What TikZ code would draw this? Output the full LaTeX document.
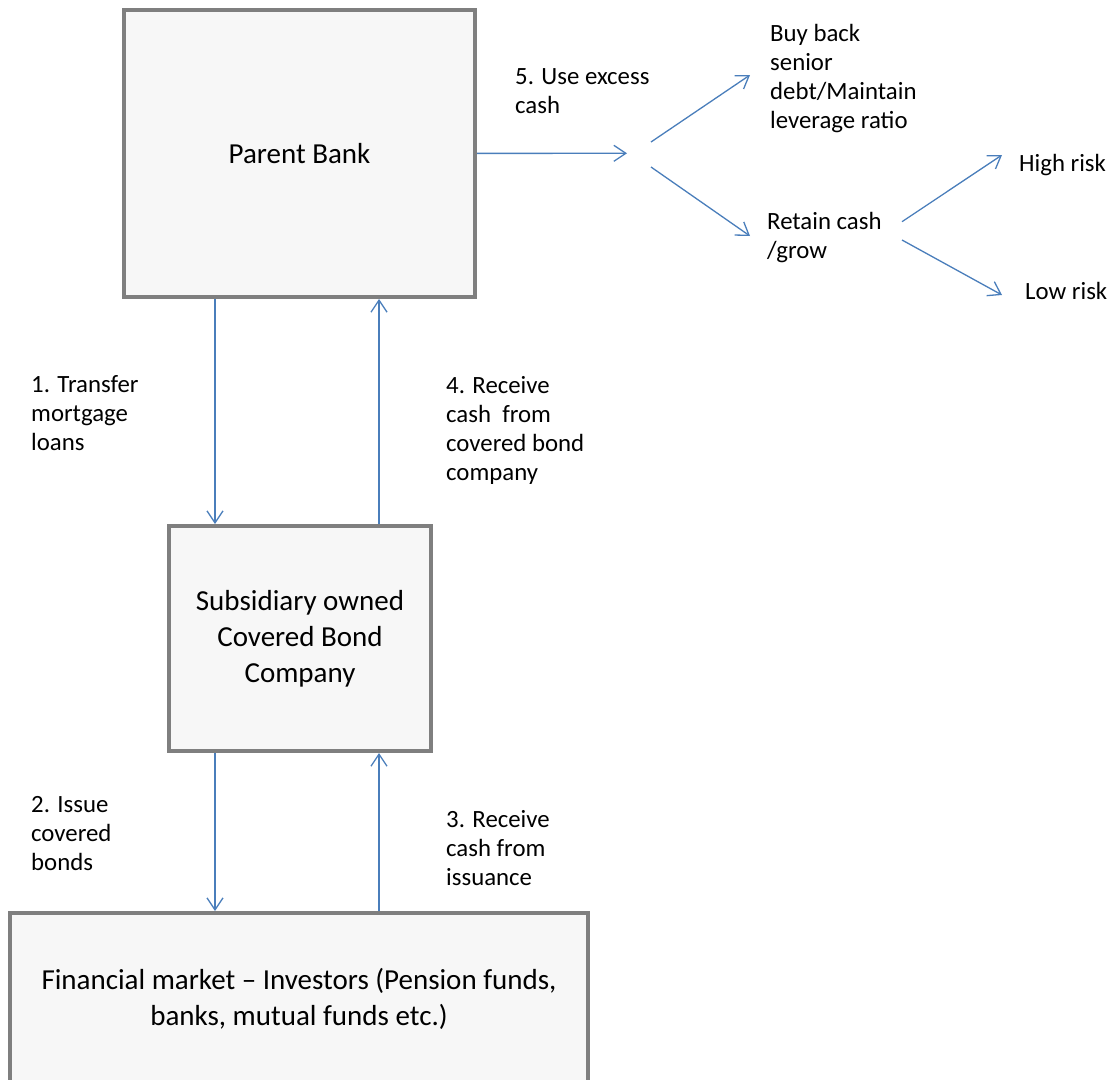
\documentclass[tikz,border=0pt]{standalone}
\usepackage{fontspec}
\setmainfont{Carlito}
\usepackage{tikz}
\usetikzlibrary{arrows.meta, positioning}
\usepackage{xcolor}
\definecolor{boxgray}{HTML}{7F7F7F}
\definecolor{boxfill}{HTML}{F7F7F7}
\definecolor{flowblue}{HTML}{4A7EBB}

\begin{document}
\begin{tikzpicture}[x=1pt, y=-1pt,
  box/.style={draw=boxgray, fill=boxfill, line width=4pt, align=center,
    font=\fontsize{29}{36}\selectfont},
  lbl/.style={anchor=base west, align=left, inner sep=0pt,
    font=\fontsize{24.8}{29}\selectfont},
  flow/.style={draw=flowblue, line width=1.3pt,
    -{Straight Barb[length=12pt, width=16pt]}}]
\useasboundingbox (0,0) rectangle (1113,1079);

\node[box, minimum width=351pt, minimum height=287pt] (parent) at (299.5,153.5) {Parent Bank};
\node[box, minimum width=262pt, minimum height=225pt] (sub) at (300,638.5) {Subsidiary owned\\Covered Bond\\Company};
\node[box, minimum width=578pt, minimum height=172pt] (market) at (299,999) {Financial market -- Investors (Pension funds,\\banks, mutual funds etc.)};

% labels sit on the baseline of their last line
\node[lbl] (transfer) at (31,450.7) {1. Transfer\\mortgage\\loans};
\node[lbl] (issue) at (31,870.7) {2. Issue\\covered\\bonds};
\node[lbl] (issuance) at (446,885) {3. Receive\\cash from\\issuance};
\node[lbl] (receive) at (446,480) {4. Receive\\cash\ \ from\\covered bond\\company};
\node[lbl] (excess) at (515,113.3) {5. Use excess\\cash};
\node[lbl] (buyback) at (770,128.7) {Buy back\\senior\\debt/Maintain\\leverage ratio};
\node[lbl] (retain) at (767,258.3) {Retain cash\\/grow};
\node[lbl] (high) at (1019,171.7) {High risk};
\node[lbl] (low) at (1025,299) {Low risk};

\coordinate (lx) at (215,0);
\coordinate (rx) at (379,0);
\coordinate (split) at (627,153.3);
\coordinate (upA) at (651,142);
\coordinate (upB) at (750,75);
\coordinate (downA) at (651,167);
\coordinate (downB) at (750,236);
\coordinate (highA) at (902,221.7);
\coordinate (highB) at (1002,155);
\coordinate (lowA) at (902,240);
\coordinate (lowB) at (1002,295);

\draw[flow] (parent.south -| lx) -- (sub.north -| lx);
\draw[flow] (sub.north -| rx) -- (parent.south -| rx);
\draw[flow] (sub.south -| lx) -- (market.north -| lx);
\draw[flow] (market.north -| rx) -- (sub.south -| rx);
\draw[flow] (parent) -- (split);
\draw[flow] (upA) -- (upB);
\draw[flow] (downA) -- (downB);
\draw[flow] (highA) -- (highB);
\draw[flow] (lowA) -- (lowB);
\end{tikzpicture}
\end{document}
